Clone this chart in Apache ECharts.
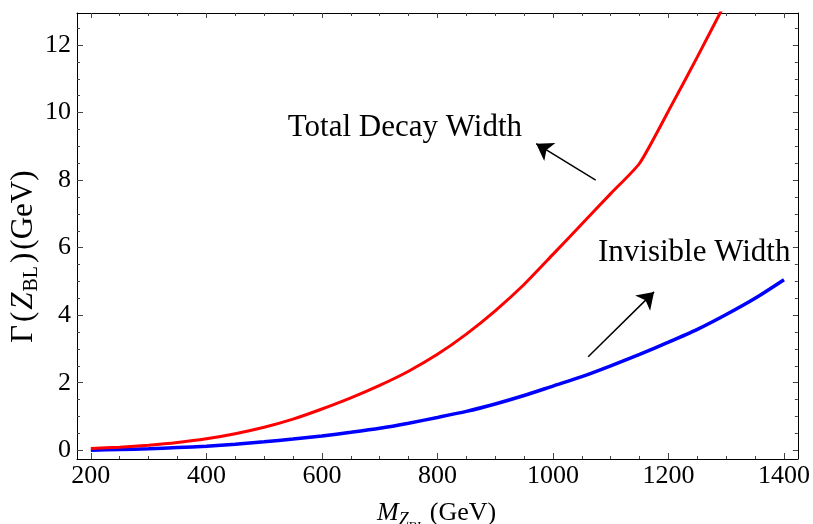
<!DOCTYPE html>
<html>
<head>
<meta charset="utf-8">
<script src="https://cdn.jsdelivr.net/npm/echarts@6/dist/echarts.min.js"></script>
<style>
  html, body { margin: 0; padding: 0; background: #fff; }
  #chart { width: 813px; height: 524px; }
</style>
</head>
<body>
<div id="chart"></div>
<script>
// Z_BL mass grid (GeV)
const massGeV = [200, 250, 300, 350, 400, 450, 500, 550, 600, 650, 700, 750, 800,
                 850, 900, 950, 1000, 1050, 1100, 1150, 1200, 1250, 1300, 1350, 1400];
// total decay width (GeV); curve leaves the frame just below 1300 GeV
const totalWidth = [0.05, 0.09, 0.15, 0.23, 0.34, 0.49, 0.68, 0.92, 1.22, 1.55, 1.92, 2.34, 2.84,
                    3.44, 4.13, 4.91, 5.80, 6.70, 7.60, 8.50, 10.05, 11.65, 13.30];
// invisible width (GeV)
const invisibleWidth = [0.00, 0.02, 0.04, 0.08, 0.12, 0.18, 0.25, 0.33, 0.42, 0.53, 0.65, 0.80, 0.97,
                        1.15, 1.37, 1.62, 1.90, 2.18, 2.50, 2.84, 3.20, 3.58, 4.02, 4.50, 5.05];

// tick positions
const xMajorTicks = [200, 400, 600, 800, 1000, 1200, 1400];
const xMinorTicks = [200, 250, 300, 350, 400, 450, 500, 550, 600, 650, 700, 750, 800,
                     850, 900, 950, 1000, 1050, 1100, 1150, 1200, 1250, 1300, 1350, 1400];
const yMajorTicks = [0, 2, 4, 6, 8, 10, 12];
const yMinorTicks = [0, 0.5, 1, 1.5, 2, 2.5, 3, 3.5, 4, 4.5, 5, 5.5, 6, 6.5, 7, 7.5, 8, 8.5,
                     9, 9.5, 10, 10.5, 11, 11.5, 12, 12.5];

// annotation texts and arrow endpoints, in data coordinates
const totalLabel = { text: 'Total Decay Width', at: [541, 9.55] };
const invisibleLabel = { text: 'Invisible Width', at: [1078, 5.85] };
const totalArrow = { from: [1074, 8.0], to: [971, 9.08] };
const invisibleArrow = { from: [1061, 2.77], to: [1175, 4.69] };

const X_RANGE = [176, 1424];
const Y_RANGE = [-0.26, 12.95];
const SERIF = '"Liberation Serif", "DejaVu Serif", serif';

const chart = echarts.init(document.getElementById('chart'));

function xAxisDef(position, ticks, len, withLabels) {
  return {
    type: 'value', position, min: X_RANGE[0], max: X_RANGE[1],
    axisLine: { show: withLabels !== null, onZero: false, lineStyle: { color: '#000', width: 1 } },
    axisTick: { show: true, inside: true, length: len, customValues: ticks,
                lineStyle: { color: '#444', width: 1 } },
    axisLabel: withLabels ? {
      show: true, customValues: ticks, formatter: v => String(v),
      fontFamily: SERIF, fontSize: 26, color: '#000', margin: 4
    } : { show: false },
    splitLine: { show: false }
  };
}
function yAxisDef(position, ticks, len, withLabels) {
  return {
    type: 'value', position, min: Y_RANGE[0], max: Y_RANGE[1],
    axisLine: { show: withLabels !== null, onZero: false, lineStyle: { color: '#000', width: 1 } },
    axisTick: { show: true, inside: true, length: len, customValues: ticks,
                lineStyle: { color: '#444', width: 1 } },
    axisLabel: withLabels ? {
      show: true, customValues: ticks, formatter: v => String(v),
      fontFamily: SERIF, fontSize: 26, color: '#000', margin: 6
    } : { show: false },
    splitLine: { show: false }
  };
}

const pair = (ys) => ys.map((y, i) => [massGeV[i], y]);

chart.setOption({
  animation: false,
  backgroundColor: '#fff',
  grid: { left: 77, right: 14, top: 13, bottom: 65 },
  xAxis: [
    xAxisDef('bottom', xMajorTicks, 6, true),
    xAxisDef('bottom', xMinorTicks, 3, null),
    xAxisDef('top', xMajorTicks, 5, false),
    xAxisDef('top', xMinorTicks, 3, null)
  ],
  yAxis: [
    yAxisDef('left', yMajorTicks, 6, true),
    yAxisDef('left', yMinorTicks, 3, null),
    yAxisDef('right', yMajorTicks, 5, false),
    yAxisDef('right', yMinorTicks, 3, null)
  ],
  series: [
    {
      name: 'Invisible Width', type: 'line', data: pair(invisibleWidth),
      showSymbol: false, smooth: 0.25,
      lineStyle: { color: '#0000ff', width: 3.5 }, z: 2
    },
    {
      name: 'Total Decay Width', type: 'line', data: pair(totalWidth),
      showSymbol: false, smooth: 0.2, clip: true,
      lineStyle: { color: '#ff0000', width: 3 }, z: 3,
      markLine: {
        silent: true, symbol: ['none', 'arrow'], symbolSize: 16,
        lineStyle: { color: '#000', width: 1.5, type: 'solid' },
        itemStyle: { color: '#000' },
        label: { show: false },
        emphasis: { disabled: true },
        data: [
          [{ coord: totalArrow.from }, { coord: totalArrow.to }],
          [{ coord: invisibleArrow.from }, { coord: invisibleArrow.to }]
        ]
      }
    }
  ]
});

// axis titles with sub/sub-subscripts, laid out piece by piece
const measureCtx = document.createElement('canvas').getContext('2d');
function fontStr(p) { return (p.italic ? 'italic ' : '') + p.size + 'px ' + SERIF; }
function layoutPieces(pieces) {
  let x = 0;
  return pieces.map(p => {
    measureCtx.font = fontStr(p);
    const el = {
      type: 'text', x: x + (p.dx || 0), y: (p.dy || 0) - 0.3 * p.size,
      style: {
        text: p.text, fontFamily: SERIF, fontSize: p.size,
        fontStyle: p.italic ? 'italic' : 'normal', fill: '#000',
        align: 'left', verticalAlign: 'middle'
      }
    };
    x += measureCtx.measureText(p.text).width + (p.dx || 0);
    return el;
  });
}

const xTitle = layoutPieces([
  { text: 'M', size: 26, italic: true },
  { text: 'Z', size: 18, italic: true, dy: 5 },
  { text: 'BL', size: 13, dy: 9 },
  { text: ' (GeV)', size: 26, dx: -2 }
]);
const yTitle = layoutPieces([
  { text: 'Γ', size: 31 },
  { text: '(', size: 31, dx: 3 },
  { text: 'Z', size: 31, italic: true, dx: 2 },
  { text: 'BL', size: 20, dy: 5, dx: 1 },
  { text: ')', size: 31, dx: 3 },
  { text: '(GeV)', size: 31, dx: 3 }
]);

function annotText(lbl) {
  const p = chart.convertToPixel({ xAxisIndex: 0, yAxisIndex: 0 }, lbl.at);
  return {
    type: 'text', x: p[0], y: p[1],
    style: { text: lbl.text, fontFamily: SERIF, fontSize: 31, fill: '#000',
             align: 'left', verticalAlign: 'middle' }
  };
}

chart.setOption({
  graphic: [
    { type: 'group', x: 377, y: 521, children: xTitle },
    { type: 'group', x: 33, y: 343, rotation: Math.PI / 2, children: yTitle },
    annotText(totalLabel),
    annotText(invisibleLabel)
  ]
});
</script>
</body>
</html>
